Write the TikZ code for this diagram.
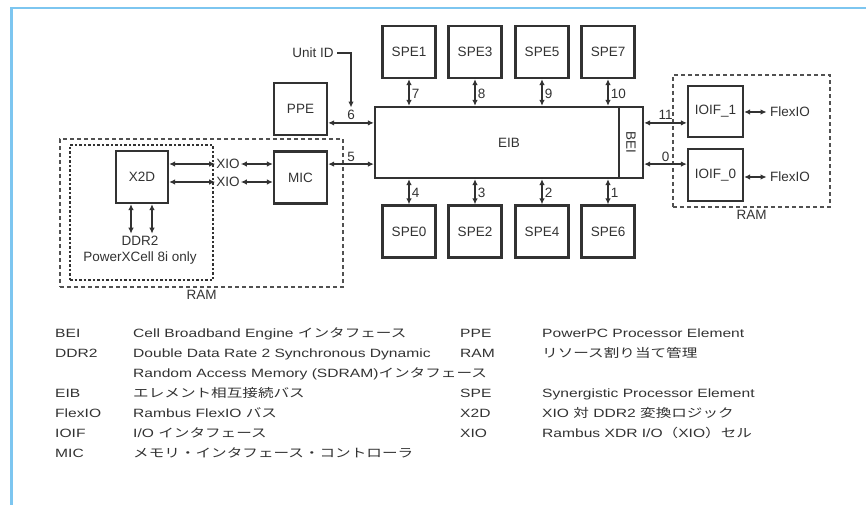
\documentclass[tikz,border=0pt]{standalone}
\usepackage{fontspec}
\setmainfont{Liberation Sans}
\newfontfamily\legfont{Liberation Sans}[FakeStretch=1.3]
\newfontfamily\legjp{Noto Sans CJK JP}[FakeStretch=1.3]
\usetikzlibrary{arrows.meta}
\definecolor{ink}{RGB}{50,50,50}
\definecolor{framecol}{RGB}{125,198,240}

\begin{document}
\begin{tikzpicture}[x=1pt, y=-1pt,
  font=\fontsize{13.5}{16}\selectfont, text=ink,
  box/.style={draw=ink, line width=2.2pt, inner sep=0pt,
    minimum width=53pt, minimum height=52pt, align=center},
  grp/.style={draw=ink!85, line width=1.4pt, dash pattern=on 4pt off 3pt},
  grpin/.style={draw=ink, line width=2.2pt, dash pattern=on 2.5pt off 2pt},
  arr/.style={{Latex[length=6pt,width=5.5pt]}-{Latex[length=6pt,width=5.5pt]},
    line width=1.8pt, draw=ink},
  one/.style={-{Latex[length=6pt,width=5.5pt]}, line width=1.4pt, draw=ink},
  num/.style={inner sep=2pt},
  lab/.style={inner sep=2pt},
  leg/.style={anchor=base west, inner sep=0pt,
    font=\legfont\fontsize{12}{14}\selectfont},
]
\useasboundingbox (0,0) rectangle (866,505);
% frame
\draw[framecol, line width=3pt] (11,505) -- (11,8);
\draw[framecol, line width=2pt] (10,8) -- (866,8);
% RAM groups
\node[grp, minimum width=283pt, minimum height=148pt,
  label={[lab]below:RAM}] (raml) at (201.5,213) {};
\node[grpin, minimum width=143pt, minimum height=135pt] (x2dgrp) at (141.5,212.5) {};
\node[grp, minimum width=157pt, minimum height=132pt,
  label={[lab]below:RAM}] (ramr) at (751.5,141) {};
% bus
\node[box, minimum width=268pt, minimum height=71pt] (eib) at (509,142.5) {EIB};
\node[box, rotate=-90, minimum width=71pt, minimum height=24pt] (bei) at (631,142.5) {BEI};
\coordinate (p6) at ([yshift=-17pt]eib.north west);
\coordinate (p5) at ([yshift=15pt]eib.south west);
\coordinate (p11) at ([yshift=-17pt]eib.north east);
\coordinate (p0) at ([yshift=15pt]eib.south east);
% SPEs
\node[box] (spe1) at (409,52) {SPE1};
\node[box] (spe3) at (475,52) {SPE3};
\node[box] (spe5) at (542,52) {SPE5};
\node[box] (spe7) at (608,52) {SPE7};
\node[box] (spe0) at (409,231.5) {SPE0};
\node[box] (spe2) at (475,231.5) {SPE2};
\node[box] (spe4) at (542,231.5) {SPE4};
\node[box] (spe6) at (608,231.5) {SPE6};
% left side
\node[box] (ppe) at (300.5,109) {PPE};
\node[box] (mic) at (300.5,177.5) {MIC};
\node[box, minimum width=52pt] (x2d) at (142,177) {X2D};
\node[inner sep=1pt] (xioa) at (228,164) {XIO};
\node[inner sep=1pt] (xiob) at (228,182) {XIO};
\node[align=center, inner sep=2pt] (ddr) at (140,250) {DDR2\\PowerXCell 8i only};
\node (uid) at (313,53) {Unit ID};
% right side
\node[box, minimum width=55pt, minimum height=51pt] (ioif1) at (715.5,111.5) {IOIF\_1};
\node[box, minimum width=55pt] (ioif0) at (715.5,175) {IOIF\_0};
\node (flex1) at (790,112) {FlexIO};
\node (flex0) at (790,177) {FlexIO};
% edges
\draw[arr] (spe1.south) -- node[num, right, pos=0.55] {7} (spe1.south |- eib.north);
\draw[arr] (spe3.south) -- node[num, right, pos=0.55] {8} (spe3.south |- eib.north);
\draw[arr] (spe5.south) -- node[num, right, pos=0.55] {9} (spe5.south |- eib.north);
\draw[arr] (spe7.south) -- node[num, right, pos=0.55] {10} (spe7.south |- eib.north);
\draw[arr] (spe0.north) -- node[num, right, pos=0.45] {4} (spe0.north |- eib.south);
\draw[arr] (spe2.north) -- node[num, right, pos=0.45] {3} (spe2.north |- eib.south);
\draw[arr] (spe4.north) -- node[num, right, pos=0.45] {2} (spe4.north |- eib.south);
\draw[arr] (spe6.north) -- node[num, right, pos=0.45] {1} (spe6.north |- eib.south);
\draw[arr] (ppe.east |- p6) -- node[num, above] (n6) {6} (p6);
\draw[arr] (mic.east |- p5) -- node[num, above] {5} (p5);
\draw[one] (uid.east) -| (n6.north);
\draw[arr] (x2d.east |- xioa) -- (xioa.west);
\draw[arr] (x2d.east |- xiob) -- (xiob.west);
\draw[arr] (xioa.east) -- (mic.west |- xioa);
\draw[arr] (xiob.east) -- (mic.west |- xiob);
\draw[arr] ([xshift=-11pt]x2d.south) -- ([xshift=-11pt]x2d.south |- ddr.north);
\draw[arr] ([xshift=10pt]x2d.south) -- ([xshift=10pt]x2d.south |- ddr.north);
\draw[arr] (p11) -- node[num, above] {11} (ioif1.west |- p11);
\draw[arr] (p0) -- node[num, above] {0} (ioif0.west |- p0);
\draw[arr] (ioif1.east |- flex1) -- (flex1.west);
\draw[arr] (ioif0.east |- flex0) -- (flex0.west);
% legend
\node[leg] (kbei) at (55,337) {BEI};
\node[leg] (dbei) at (133,337) {Cell Broadband Engine {\legjp インタフェース}};
\node[leg] (kddr) at (55,357) {DDR2};
\node[leg] (dddr) at (133,357) {Double Data Rate 2 Synchronous Dynamic};
\node[leg] (dddrb) at (133,377) {Random Access Memory (SDRAM){\legjp インタフェース}};
\node[leg] (keib) at (55,397) {EIB};
\node[leg] (deib) at (133,397) {\legjp エレメント相互接続バス};
\node[leg] (kflex) at (55,417) {FlexIO};
\node[leg] (dflex) at (133,417) {Rambus FlexIO {\legjp バス}};
\node[leg] (kioif) at (55,437) {IOIF};
\node[leg] (dioif) at (133,437) {I/O {\legjp インタフェース}};
\node[leg] (kmic) at (55,457) {MIC};
\node[leg] (dmic) at (133,457) {\legjp メモリ・インタフェース・コントローラ};
\node[leg] (kppe) at (460,337) {PPE};
\node[leg] (dppe) at (542,337) {PowerPC Processor Element};
\node[leg] (kram) at (460,357) {RAM};
\node[leg] (dram) at (542,357) {\legjp リソース割り当て管理};
\node[leg] (kspe) at (460,397) {SPE};
\node[leg] (dspe) at (542,397) {Synergistic Processor Element};
\node[leg] (kx2d) at (460,417) {X2D};
\node[leg] (dx2d) at (542,417) {XIO {\legjp 対} DDR2 {\legjp 変換ロジック}};
\node[leg] (kxio) at (460,437) {XIO};
\node[leg] (dxio) at (542,437) {Rambus XDR I/O{\legjp （}XIO{\legjp ）セル}};
\end{tikzpicture}
\end{document}
